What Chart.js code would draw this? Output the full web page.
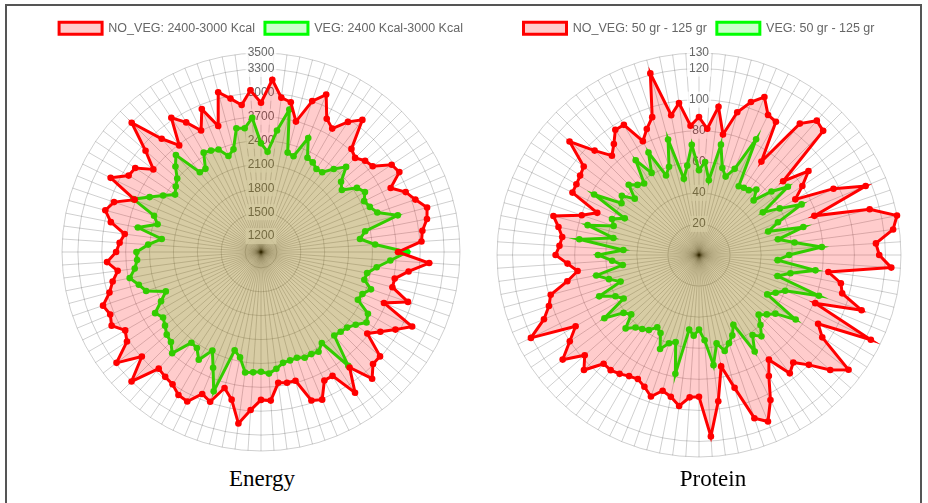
<!DOCTYPE html>
<html>
<head>
<meta charset="utf-8">
<script src="https://cdn.jsdelivr.net/npm/chart.js@4.4.1/dist/chart.umd.min.js"></script>
<style>
body { margin: 0; background: #fff; width: 928px; height: 503px; overflow: hidden; position: relative; }
#frame { position: absolute; left: 5px; top: 4px; width: 913px; height: 540px; border: 2px solid #555; }
.box { position: absolute; top: 12px; width: 440px; }
#box1 { left: 41px; height: 448px; }
#box2 { left: 479px; height: 454px; }
.caption { position: absolute; top: 466px; width: 200px; line-height: 26px; text-align: center;
  font-family: 'Liberation Serif', 'Times New Roman', serif; font-size: 23px; color: #000; }
</style>
</head>
<body>
<div id="frame"></div>
<div class="box" id="box1"><canvas id="chart1"></canvas></div>
<div class="box" id="box2"><canvas id="chart2"></canvas></div>
<div class="caption" style="left:162px">Energy</div>
<div class="caption" style="left:613px">Protein</div>
<script>
// values read clockwise from the top spoke
var energyNoVeg = [
  2875, 3169, 2956, 2918, 2696, 3002, 3140, 2867, 2790, 2966, 3092, 2723,
  2672, 2740, 2769, 2974, 3007, 2816, 2967, 3048, 3160, 3126, 3045, 3020,
  2722, 3117, 2870, 2713, 2709, 2950, 2672, 3117, 2950, 2803, 2683, 2989,
  2990, 3117, 2828, 3126, 2797, 2800, 3008, 2970, 2674, 2675, 2658, 2871,
  2858, 2990, 3174, 2891, 2769, 2987, 2930, 3095, 3074, 3000, 2977, 2949,
  3300, 2991, 3288, 3025, 2970, 3092, 3050, 3096, 2971, 2900, 2816, 2938,
  2820, 2780, 2727, 2923, 3025, 2950, 2718, 3106, 2920, 2900, 2705, 2929,
  3297, 2892, 2688, 3028, 2880, 2702, 2943, 2672, 3078, 2965, 2862, 3036
];
var energyVeg = [
  2365, 2262, 2540, 2824, 2293, 2271, 2551, 2320, 2300, 2254, 2263, 2386,
  2512, 2338, 2280, 2450, 2508, 2445, 2480, 2543, 2779, 2335, 2254, 2437,
  2837, 2628, 2466, 2359, 2344, 2459, 2380, 2357, 2551, 2594, 2500, 2440,
  2416, 2396, 2801, 2375, 2446, 2430, 2437, 2403, 2410, 2420, 2480, 2531,
  2505, 2515, 2527, 2350, 2279, 2849, 2573, 2381, 2564, 2450, 2436, 2693,
  2600, 2575, 2520, 2480, 2536, 2400, 2294, 2524, 2589, 2682, 2600, 2560,
  2565, 2420, 2258, 2577, 2345, 2419, 2735, 2560, 2420, 2298, 2350, 2400,
  2520, 2621, 2262, 2256, 2441, 2420, 2394, 2273, 2335, 2586, 2569, 2688
];
var proteinNoVeg = [
  88.8, 81.4, 96.2, 79.1, 95.1, 104, 110, 100.5, 99, 72.3, 106.6, 115,
  113, 72, 88.8, 80, 71.6, 96.5, 116.1, 78.4, 113.7, 129.9, 126, 114.1,
  116, 124, 84, 93.1, 95.4, 110.5, 81, 123.3, 88.5, 95.4, 121.3, 112.3,
  100, 92, 96, 81, 89.9, 104, 116, 110.9, 88.5, 73.1, 95, 117,
  91.2, 91.8, 98, 93, 90.4, 96.2, 91.8, 89, 90, 92, 93.4, 93.1,
  104.7, 97.8, 110.6, 100, 91.7, 120.6, 108, 102, 98.8, 86.4, 78.8, 84.8,
  92.3, 90, 88.8, 92.2, 97, 79.7, 70.9, 90.8, 91.1, 92, 93.5, 110.8,
  95, 85, 90, 96.9, 96.7, 81.7, 87.8, 93.7, 121, 91.7, 98.6, 83.4
];
var proteinVeg = [
  54.6, 60, 48.5, 72.4, 58, 53.3, 60, 83.1, 51.1, 52, 52.6, 56,
  49.7, 62, 72.1, 49.4, 60, 73.6, 55, 47, 69.5, 51.8, 62, 79.2,
  58, 50.7, 75.6, 60, 52.3, 81.5, 60, 55, 50.7, 74.8, 62, 58,
  54.3, 60, 66, 62, 71.7, 50, 56, 60, 63.9, 58, 71.5, 55,
  48, 52, 48.4, 78, 58, 60, 65.5, 56, 53.7, 58, 60, 62,
  66.8, 58, 61.2, 73.2, 56, 60, 69.5, 53.3, 60, 67.4, 49.5, 56,
  65, 48.8, 77.7, 56.2, 74.2, 58, 60.6, 53.3, 77.9, 60, 62.6, 55,
  64, 60, 58, 73.3, 61, 73.5, 55.4, 60, 76.9, 50, 58, 71.1
];
var energyLabels = ['NO_VEG: 2400-3000 Kcal', 'VEG: 2400 Kcal-3000 Kcal'];
var proteinLabels = ['NO_VEG: 50 gr - 125 gr', 'VEG: 50 gr - 125 gr'];
// min, max, step of the radial axis
var energyRange = [1000, 3500, 300];
var proteinRange = [0, 130, 20];
var categories = energyNoVeg.map(function(v, i) { return String(i + 1); });

var gridGray = 'rgba(0,0,0,0.19)';
var sans = "'Liberation Sans', Arial, sans-serif";

var radarFunc = function(id, names, noVeg, veg, range) {
	var ctx = document.getElementById(id).getContext('2d');
	return new Chart(ctx, {
		type: 'radar',
		data: {
			labels: categories,
			datasets: [{
				label: names[0],
				data: noVeg,
				borderColor: 'rgb(255,0,0)',
				backgroundColor: 'rgba(255,0,0,0.2)',
				pointBackgroundColor: 'rgb(255,0,0)',
				pointBorderColor: 'rgb(255,0,0)',
				borderWidth: 3,
				pointRadius: 3.3,
				pointBorderWidth: 0
			}, {
				label: names[1],
				data: veg,
				borderColor: 'rgb(0,255,0)',
				backgroundColor: 'rgba(0,255,0,0.2)',
				pointBackgroundColor: 'rgb(0,255,0)',
				pointBorderColor: 'rgb(0,255,0)',
				borderWidth: 3,
				pointRadius: 3.3,
				pointBorderWidth: 0
			}]
		},
		options: {
			responsive: true,
			maintainAspectRatio: false,
			animation: false,
			devicePixelRatio: 1,
			elements: { line: { tension: 0 } },
			plugins: {
				legend: {
					labels: {
						color: '#666',
						boxWidth: 43,
						boxHeight: 12,
						font: { size: 12.5, family: sans }
					}
				},
				tooltip: { enabled: false }
			},
			scales: {
				r: {
					min: range[0],
					max: range[1],
					ticks: {
						stepSize: range[2],
						color: '#666',
						font: { size: 12, family: sans },
						backdropColor: 'rgba(255,255,255,0.75)',
						backdropPadding: 2,
						callback: function(v) { return String(v); }
					},
					pointLabels: { display: false },
					grid: { circular: true, color: gridGray },
					angleLines: { color: gridGray }
				}
			}
		}
	});
};

radarFunc('chart1', energyLabels, energyNoVeg, energyVeg, energyRange);
radarFunc('chart2', proteinLabels, proteinNoVeg, proteinVeg, proteinRange);
</script>
</body>
</html>
